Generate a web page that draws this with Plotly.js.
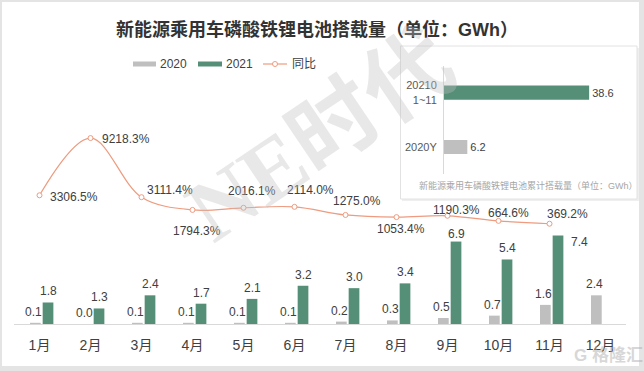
<!DOCTYPE html>
<html>
<head>
<meta charset="utf-8">
<script src="https://cdn.plot.ly/plotly-3.0.1.min.js"></script>
<style>html,body{margin:0;padding:0;background:#fff;}#chart{width:644px;height:371px;}</style>
</head>
<body>
<div id="chart"></div>
<script>
// ---- data ----
const months = ['1月','2月','3月','4月','5月','6月','7月','8月','9月','10月','11月','12月'];
const v2020 = [0.1,0.0,0.1,0.1,0.1,0.1,0.2,0.3,0.5,0.7,1.6,2.4];
const v2021 = [1.8,1.3,2.4,1.7,2.1,3.2,3.0,3.4,6.9,5.4,7.4,null];
const yoy = [3306.5,9218.3,3111.4,1794.3,2016.1,2114.0,1275.0,1053.4,1190.3,664.6,369.2];
const seriesNames = ['2020','2021','同比'];
const cumCats = ['2020Y','20210<br>1~11'];
const cumVals = [6.2,38.6];
const titleText = '新能源乘用车磷酸铁锂电池搭载量（单位：GWh）';
const insetCaption = '新能源乘用车磷酸铁锂电池累计搭载量（单位：GWh）';

// ---- styles ----
const C20 = '#BFBFBF', C21 = '#558F77', CL = '#EE9B7F', TXT = '#404040';
const FONT = 'Liberation Sans, Arial, Noto Sans CJK SC, sans-serif';
const M = {l:14, r:18, t:40, b:47};
const W = 644, H = 371, PW = W - M.l - M.r, PH = H - M.t - M.b;
const X = px => (px - M.l) / PW;
const Y = py => (H - M.b - py) / PH;

// label offsets (pixels)
const dx = [34,35,28,4,8,16,11,4,9,10,18];
const dy = [-2,-1,7,-21,17,17,14,-12,6,8,10];
const dx21 = [9,9,9,9,9,9,9,9,9,9,30,9];
const dy21 = [11,11,11,11,11,11,11,11,8,11,-6,11];

const traces = [
  {type:'bar', name:seriesNames[0], x:months, y:v2020, marker:{color:C20}, width:0.21, offset:-0.186, hoverinfo:'skip'},
  {type:'bar', name:seriesNames[1], x:months, y:v2021, marker:{color:C21}, width:0.21, offset:0.062, hoverinfo:'skip'},
  {type:'scatter', name:seriesNames[2], x:months.slice(0,yoy.length), y:yoy, yaxis:'y2',
   mode:'lines+markers', line:{color:CL,width:1.2,shape:'spline',smoothing:1},
   marker:{symbol:'circle',size:5,color:'#fff',line:{color:CL,width:1}}, cliponaxis:false, hoverinfo:'skip'},
  {type:'bar', orientation:'h', x:cumVals, y:cumCats, xaxis:'x3', yaxis:'y3', width:0.26,
   marker:{color:[C20,C21]}, text:cumVals.map(v=>v.toFixed(1)), textposition:'outside', cliponaxis:false, constraintext:'none',
   textfont:{size:11,color:TXT,family:FONT}, hoverinfo:'skip', showlegend:false}
];

const P = (px,py,o)=>Object.assign({xref:'paper',yref:'paper',x:X(px),y:Y(py),showarrow:false,
  xanchor:'center',yanchor:'middle'},o);
const LF = {size:12,color:TXT,family:FONT};

const annotations = [];
// bar value labels
v2020.forEach((v,i)=>{ if(v!=null) annotations.push({x:months[i],y:v,xref:'x',yref:'y',text:v.toFixed(1),
  showarrow:false,xanchor:'center',yanchor:'middle',xshift:-6,yshift:11,font:LF}); });
v2021.forEach((v,i)=>{ if(v!=null) annotations.push({x:months[i],y:v,xref:'x',yref:'y',text:v.toFixed(1),
  showarrow:false,xanchor:'center',yanchor:'middle',xshift:dx21[i],yshift:dy21[i],font:LF}); });
// yoy labels
yoy.forEach((v,i)=>annotations.push({
  x:months[i], y:v, xref:'x', yref:'y2', text:v.toFixed(1)+'%', showarrow:false,
  xanchor:'center', yanchor:'middle', xshift:dx[i], yshift:dy[i], font:LF}));
// watermark
annotations.push(P(320,136,{text:'<b>NE时代</b>',textangle:-34,
  font:{size:88,color:'rgba(190,190,190,0.36)',family:'Liberation Serif, Noto Sans CJK SC, serif'}}));
// inset caption
annotations.push(P(528,185,{text:insetCaption,font:{size:9,color:'#A6A6A6',family:FONT}}));
// legend labels
[[158,0],[224,1],[290,2]].forEach(([px,i])=>annotations.push(P(px,64,{xanchor:'left',
  text:seriesNames[i],font:LF})));
// logo watermark
annotations.push(P(608,355,{text:'<b>G 格隆汇</b>',font:{size:17,color:'rgba(175,175,175,0.5)',family:FONT}}));

const shapes = [
  {type:'rect',xref:'paper',yref:'paper',x0:X(2),x1:X(639),y0:Y(2),y1:Y(366),fillcolor:'#fff',line:{width:0},layer:'below'},
  {type:'rect',xref:'paper',yref:'paper',x0:X(402),x1:X(639),y0:Y(48),y1:Y(201),fillcolor:'#EFEFEF',line:{width:0},layer:'below'},
  {type:'rect',xref:'paper',yref:'paper',x0:X(400.5),x1:X(637),y0:Y(46),y1:Y(199),fillcolor:'#fff',line:{color:'#E2E2E2',width:1},layer:'below'},
  {type:'rect',xref:'paper',yref:'paper',x0:X(133),x1:X(156),y0:Y(61.5),y1:Y(66.5),fillcolor:C20,line:{width:0}},
  {type:'rect',xref:'paper',yref:'paper',x0:X(198),x1:X(222),y0:Y(61.5),y1:Y(66.5),fillcolor:C21,line:{width:0}},
  {type:'line',xref:'paper',yref:'paper',x0:X(263),x1:X(287),y0:Y(64),y1:Y(64),line:{color:CL,width:1.2}},
  {type:'circle',xref:'paper',yref:'paper',x0:X(272.5),x1:X(277.5),y0:Y(61.5),y1:Y(66.5),fillcolor:'#fff',line:{color:CL,width:1}}
];

const layout = {
  width:W, height:H, margin:M, paper_bgcolor:'#E4E4E4', plot_bgcolor:'rgba(0,0,0,0)',
  font:{family:FONT,color:TXT}, showlegend:false,
  title:{text:'<b>'+titleText+'</b>', xref:'container', yref:'container', x:317/W, y:1-30/H,
    xanchor:'center', yanchor:'middle', font:{size:18,color:'#333',family:FONT}},
  barmode:'group',
  xaxis:{type:'category', domain:[0,1], range:[-0.5, months.length-0.5], showline:true, linecolor:'#D9D9D9',
    linewidth:1, showgrid:false, ticks:'', tickfont:{size:14,color:TXT}, ticklabelstandoff:8, fixedrange:true},
  yaxis:{range:[0, PH/11.95], visible:false, fixedrange:true},
  yaxis2:{overlaying:'y', range:[-(H-M.b-227.3)/0.00968, (227.3-M.t)/0.00968], visible:false},
  xaxis3:{domain:[X(444),X(620)], anchor:'y3', range:[0,176/3.76], visible:false},
  yaxis3:{domain:[Y(174.2),Y(65.5)], anchor:'x3', type:'category', categoryarray:cumCats, categoryorder:'array',
    range:[-0.5,1.5], showline:true, linecolor:'#D9D9D9', showgrid:false, ticks:'',
    tickfont:{size:11,color:'#595959'}, ticklabelstandoff:4},
  annotations:annotations, shapes:shapes
};

Plotly.newPlot('chart', traces, layout, {displayModeBar:false, staticPlot:true});
</script>
</body>
</html>
